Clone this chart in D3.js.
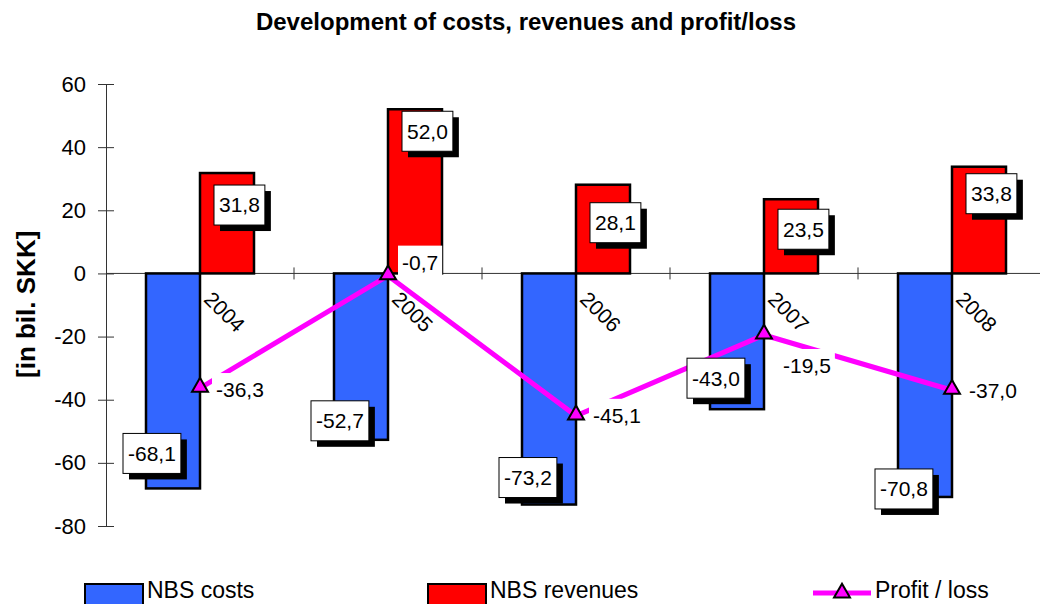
<!DOCTYPE html>
<html>
<head>
<meta charset="utf-8">
<script src="https://cdn.jsdelivr.net/npm/d3@7"></script>
<style>
  body { margin: 0; background: #fff; }
  svg { display: block; font-family: "Liberation Sans", Arial, sans-serif; }
</style>
</head>
<body>
<svg id="chart" width="1040" height="604"></svg>
<script>
"use strict";

var years = ["2004", "2005", "2006", "2007", "2008"];
var costs = [-68.1, -52.7, -73.2, -43.0, -70.8];
var revenues = [31.8, 52.0, 28.1, 23.5, 33.8];
var profit = [-36.3, -0.7, -45.1, -19.5, -37.0];
var yTicks = [-80, -60, -40, -20, 0, 20, 40, 60];
var seriesNames = ["NBS costs", "NBS revenues", "Profit / loss"];

// hand placed label nudges, like in the original sheet
var costNudge = [-35, -19, -27, -31, -8];
var revNudge = [32, 22, 38, 30, 27];
var profitNudge = [[16, 2], [14, -13], [17, 0], [19, 31], [17, 0]];

var blue = "#3366ff", red = "#ff0000", pink = "#ff00ff";

var svg = d3.select("#chart");

var y = d3.scaleLinear().domain([-80, 60]).range([526, 84]);
var x = d3.scaleBand().domain(years).range([106, 1046]);
var sub = d3.scaleBand().domain(["costs", "revenues"]).range([-54, 54]);

function fmt(v) {
  return v.toFixed(1).replace(".", ",");
}
function cx(year) {
  return x(year) + x.bandwidth() / 2;
}

// title
svg.append("text")
  .attr("x", 526).attr("y", 30)
  .attr("text-anchor", "middle")
  .style("font-size", "24px").style("font-weight", "bold")
  .text("Development of costs, revenues and profit/loss");

// y axis title
svg.append("text")
  .attr("transform", "translate(35,378) rotate(-90)")
  .style("font-size", "26px").style("font-weight", "bold")
  .text("[in bil. SKK]");

// y axis
var yAxis = svg.append("g")
  .attr("transform", "translate(106,0)")
  .call(d3.axisLeft(y).tickValues(yTicks)
    .tickFormat(function (d) { return String(d); })
    .tickSizeOuter(0).tickSizeInner(8).tickPadding(12));
yAxis.select(".domain").attr("stroke", "#333");
yAxis.selectAll(".tick line").attr("x1", -8).attr("x2", 8).attr("stroke", "#333");
yAxis.selectAll(".tick text")
  .style("font-size", "22px")
  .style("font-family", "Liberation Sans, Arial, sans-serif")
  .attr("fill", "#000");

// zero line with ticks at category borders
svg.append("line")
  .attr("x1", 106).attr("x2", 1040)
  .attr("y1", y(0)).attr("y2", y(0))
  .attr("stroke", "#333");
svg.selectAll(".xtick")
  .data(years.slice(1))
  .enter().append("line")
  .attr("class", "xtick")
  .attr("x1", function (d) { return x(d); })
  .attr("x2", function (d) { return x(d); })
  .attr("y1", y(0) - 6).attr("y2", y(0) + 6)
  .attr("stroke", "#333");

// bars
var barW = sub.bandwidth();
svg.selectAll(".cost")
  .data(costs)
  .enter().append("rect")
  .attr("class", "cost")
  .attr("x", function (d, i) { return cx(years[i]) + sub("costs"); })
  .attr("y", y(0))
  .attr("width", barW)
  .attr("height", function (d) { return y(d) - y(0); })
  .attr("fill", blue).attr("stroke", "#000").attr("stroke-width", 2.5);

svg.selectAll(".rev")
  .data(revenues)
  .enter().append("rect")
  .attr("class", "rev")
  .attr("x", function (d, i) { return cx(years[i]) + sub("revenues"); })
  .attr("y", function (d) { return y(d); })
  .attr("width", barW)
  .attr("height", function (d) { return y(0) - y(d); })
  .attr("fill", red).attr("stroke", "#000").attr("stroke-width", 2.5);

// category labels, rotated
svg.selectAll(".year")
  .data(years)
  .enter().append("text")
  .attr("class", "year")
  .attr("transform", function (d) { return "translate(" + (cx(d) + 14) + "," + (y(0) + 16) + ") rotate(45)"; })
  .attr("dy", "0.75em")
  .style("font-size", "21px")
  .text(function (d) { return d; });

// profit line
var line = d3.line()
  .x(function (d, i) { return cx(years[i]); })
  .y(function (d) { return y(d); });
svg.append("path")
  .datum(profit)
  .attr("d", line)
  .attr("fill", "none")
  .attr("stroke", pink)
  .attr("stroke-width", 5);

var tri = d3.symbol().type(d3.symbolTriangle).size(110);
svg.selectAll(".mark")
  .data(profit)
  .enter().append("path")
  .attr("class", "mark")
  .attr("d", tri)
  .attr("transform", function (d, i) { return "translate(" + cx(years[i]) + "," + (y(d) - 1) + ")"; })
  .attr("fill", pink).attr("stroke", "#000").attr("stroke-width", 2);

// boxed label with drop shadow
function boxLabel(txt, left, midY) {
  var g = svg.append("g");
  var t = g.append("text")
    .attr("x", left + 5).attr("y", midY)
    .attr("dy", "0.35em")
    .style("font-size", "21px")
    .text(txt);
  var w = t.node().getComputedTextLength() + 10;
  g.insert("rect", "text")
    .attr("x", left + 6).attr("y", midY - 20 + 6)
    .attr("width", w).attr("height", 40)
    .attr("fill", "#000");
  g.insert("rect", "text")
    .attr("x", left).attr("y", midY - 20)
    .attr("width", w).attr("height", 40)
    .attr("fill", "#fff").attr("stroke", "#000").attr("stroke-width", 1);
}

costs.forEach(function (v, i) {
  boxLabel(fmt(v), cx(years[i]) + sub("costs") - 23, y(v) + costNudge[i]);
});
revenues.forEach(function (v, i) {
  boxLabel(fmt(v), cx(years[i]) + sub("revenues") + 14, y(v) + revNudge[i]);
});

// profit labels on white background
profit.forEach(function (v, i) {
  var px = cx(years[i]) + profitNudge[i][0];
  var py = y(v) + profitNudge[i][1];
  var g = svg.append("g");
  var t = g.append("text")
    .attr("x", px).attr("y", py)
    .attr("dy", "0.35em")
    .style("font-size", "21px")
    .text(fmt(v));
  var w = t.node().getComputedTextLength();
  g.insert("rect", "text")
    .attr("x", px - 4).attr("y", py - 17)
    .attr("width", w + 8).attr("height", 34)
    .attr("fill", "#fff");
});

// legend
var legend = svg.append("g");
var legendX = [85, 428, 813];
var legendColors = [blue, red, pink];
seriesNames.forEach(function (name, i) {
  var lx = legendX[i];
  if (i < 2) {
    legend.append("rect")
      .attr("x", lx).attr("y", 584)
      .attr("width", 58).attr("height", 24)
      .attr("fill", legendColors[i]).attr("stroke", "#000").attr("stroke-width", 2);
  } else {
    legend.append("line")
      .attr("x1", lx).attr("x2", lx + 58)
      .attr("y1", 593).attr("y2", 593)
      .attr("stroke", pink).attr("stroke-width", 5);
    legend.append("path")
      .attr("d", tri)
      .attr("transform", "translate(" + (lx + 29) + ",593)")
      .attr("fill", pink).attr("stroke", "#000").attr("stroke-width", 2);
  }
  legend.append("text")
    .attr("x", lx + 62).attr("y", 598)
    .style("font-size", "23px")
    .text(name);
});
</script>
</body>
</html>
